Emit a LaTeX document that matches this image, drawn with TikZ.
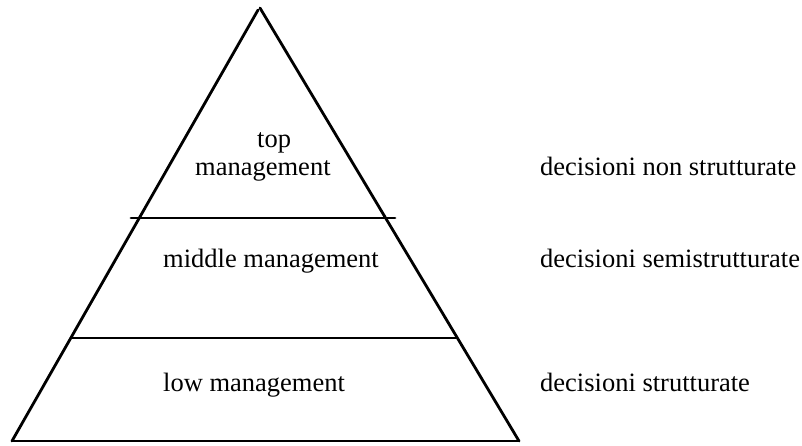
\documentclass[tikz,border=0pt]{standalone}
\usepackage{fontspec}
\setmainfont{Liberation Serif}
\begin{document}
\begin{tikzpicture}[x=1pt,y=-1pt,
  edge/.style={line width=2.8pt,line cap=round},
  label/.style={anchor=base west,inner sep=0pt,font=\fontsize{26.5}{32}\selectfont}]
\useasboundingbox (0,0) rectangle (802,445);
% pyramid corners
\coordinate (apexL) at (258,10);
\coordinate (apexR) at (260,8);
\coordinate (baseL) at (12,441);
\coordinate (baseR) at (519,441);
% level dividers
\coordinate (d1L) at (131,218);
\coordinate (d1R) at (395,218);
\coordinate (d2L) at (72,338);
\coordinate (d2R) at (457,338);
\draw[edge] (baseL) -- (apexL);
\draw[edge] (apexR) -- (baseR);
\draw[edge] (baseL) -- (baseR);
\draw[edge] (d1L) -- (d1R);
\draw[edge] (d2L) -- (d2R);
% levels
\node[label] (top1) at (257,147) {top};
\node[label] (top2) at (195,175) {management};
\node[label] (mid) at (163,267) {middle management};
\node[label] (low) at (163,391) {low management};
% decision types
\node[label] (dec1) at (540,175) {decisioni non strutturate};
\node[label] (dec2) at (540,267) {decisioni semistrutturate};
\node[label] (dec3) at (540,391) {decisioni strutturate};
\end{tikzpicture}
\end{document}
